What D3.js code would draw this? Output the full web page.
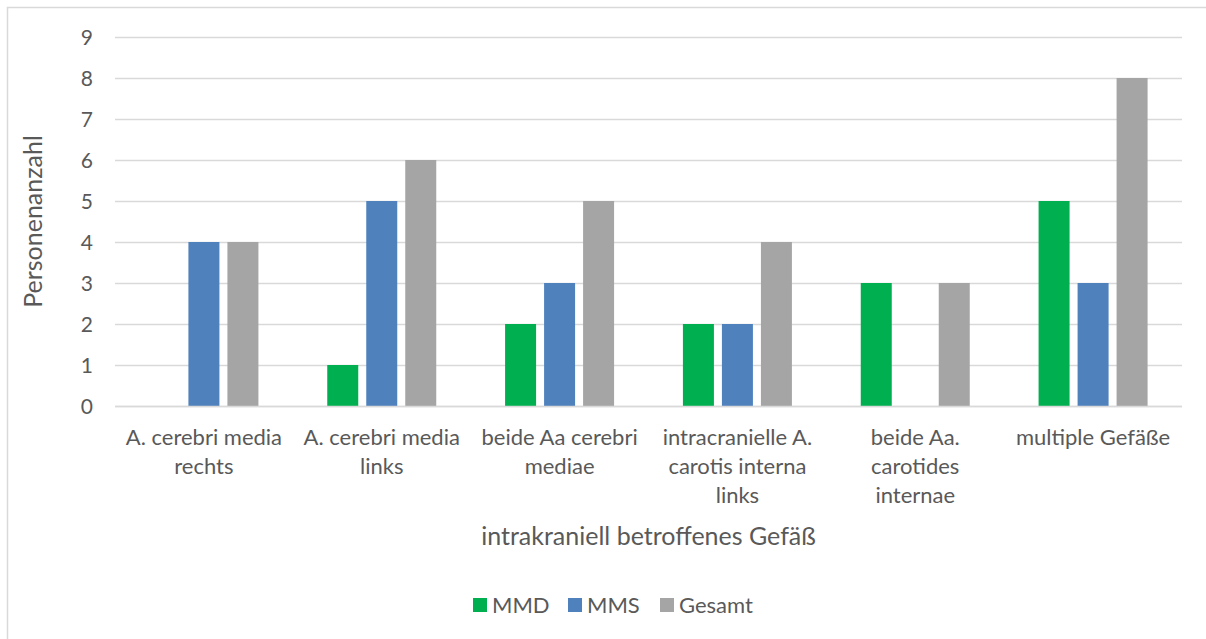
<!DOCTYPE html>
<html>
<head>
<meta charset="utf-8">
<script src="https://cdn.jsdelivr.net/npm/d3@7"></script>
<style>
  html, body { margin: 0; padding: 0; background: #fff; overflow: hidden; }
  svg text { font-family: Lato, "Open Sans", sans-serif; fill: #595959; }
</style>
</head>
<body>
<svg id="chart" width="1206" height="639"></svg>
<script>
// Affected intracranial vessel, by group
const categories = [
  "A. cerebri media rechts",
  "A. cerebri media links",
  "beide Aa cerebri mediae",
  "intracranielle A. carotis interna links",
  "beide Aa. carotides internae",
  "multiple Gefäße"
];
const categoryLines = [
  ["A. cerebri media", "rechts"],
  ["A. cerebri media", "links"],
  ["beide Aa cerebri", "mediae"],
  ["intracranielle A.", "carotis interna", "links"],
  ["beide Aa.", "carotides", "internae"],
  ["multiple Gefäße"]
];
const seriesNames = ["MMD", "MMS", "Gesamt"];
const mmd    = [0, 1, 2, 2, 3, 5];
const mms    = [4, 5, 3, 2, 0, 3];
const gesamt = [4, 6, 5, 4, 3, 8];
const yTicks = [0, 1, 2, 3, 4, 5, 6, 7, 8, 9];
const colors = ["#00b050", "#4f81bd", "#a5a5a5"];

const seriesValues = [mmd, mms, gesamt];
const svg = d3.select("#chart");

// outer frame (right and bottom edges fall outside the page)
svg.append("rect")
  .attr("x", 7.5).attr("y", 7.5)
  .attr("width", 1210).attr("height", 640)
  .attr("fill", "none").attr("stroke", "#d9d9d9").attr("stroke-width", 1.5);

const plot = { left: 115, right: 1182, top: 37, bottom: 406 };

const x0 = d3.scaleBand()
  .domain(categories)
  .range([plot.left, plot.right])
  .paddingInner(0).paddingOuter(0);

// bar width ~31px, gap between bars ~8px
const barW = 31, barGap = 8;
const groupW = 3 * barW + 2 * barGap;
const x1 = d3.scaleBand()
  .domain(seriesNames)
  .range([0, groupW])
  .paddingInner(barGap / (barW + barGap))
  .paddingOuter(0);

const y = d3.scaleLinear().domain([0, 9]).range([plot.bottom, plot.top]);

// gridlines
svg.append("g")
  .selectAll("line")
  .data(yTicks)
  .join("line")
  .attr("x1", plot.left).attr("x2", plot.right)
  .attr("y1", d => Math.round(y(d)) + 0.5).attr("y2", d => Math.round(y(d)) + 0.5)
  .attr("stroke", "#d9d9d9").attr("stroke-width", 1.5);

// y tick labels
svg.append("g")
  .selectAll("text")
  .data(yTicks)
  .join("text")
  .attr("x", 93)
  .attr("y", d => y(d))
  .attr("dy", "0.36em")
  .attr("text-anchor", "end")
  .attr("font-size", 21)
  .text(d => d);

// bars
const groups = svg.append("g")
  .selectAll("g")
  .data(categories)
  .join("g")
  .attr("transform", c => `translate(${x0(c) + (x0.bandwidth() - groupW) / 2},0)`);

groups.selectAll("rect")
  .data((c, i) => seriesNames.map((s, k) => ({ s, k, v: seriesValues[k][i] })))
  .join("rect")
  .attr("x", d => x1(d.s))
  .attr("width", x1.bandwidth())
  .attr("y", d => y(d.v))
  .attr("height", d => y(0) - y(d.v))
  .attr("fill", d => colors[d.k]);

// baseline redrawn over bars
svg.append("line")
  .attr("x1", plot.left).attr("x2", plot.right)
  .attr("y1", Math.round(y(0)) + 0.5).attr("y2", Math.round(y(0)) + 0.5)
  .attr("stroke", "#d9d9d9").attr("stroke-width", 1.5);

// category labels
const labelTop = 445, lineH = 29;
const catLabels = svg.append("g")
  .selectAll("text")
  .data(categories)
  .join("text")
  .attr("text-anchor", "middle")
  .attr("font-size", 22)
  .attr("x", c => x0(c) + x0.bandwidth() / 2)
  .attr("y", labelTop);
catLabels.each(function (c, i) {
  const t = d3.select(this);
  categoryLines[i].forEach((line, j) => {
    t.append("tspan")
      .attr("x", x0(c) + x0.bandwidth() / 2)
      .attr("y", labelTop + j * lineH)
      .text(line);
  });
});

// axis titles
svg.append("text")
  .attr("x", (plot.left + plot.right) / 2)
  .attr("y", 545)
  .attr("text-anchor", "middle")
  .attr("font-size", 25)
  .text("intrakraniell betroffenes Gefäß");

svg.append("text")
  .attr("transform", `translate(42,${(plot.top + plot.bottom) / 2}) rotate(-90)`)
  .attr("text-anchor", "middle")
  .attr("font-size", 25)
  .text("Personenanzahl");

// legend
const legendItems = [
  { name: seriesNames[0], x: 473 },
  { name: seriesNames[1], x: 568 },
  { name: seriesNames[2], x: 660 }
];
const legend = svg.append("g")
  .selectAll("g")
  .data(legendItems)
  .join("g")
  .attr("transform", d => `translate(${d.x},598)`);
legend.append("rect")
  .attr("width", 14).attr("height", 14)
  .attr("fill", (d, i) => colors[i]);
legend.append("text")
  .attr("x", 19).attr("y", 7)
  .attr("dy", "0.36em")
  .attr("font-size", 22)
  .text(d => d.name);
</script>
</body>
</html>
